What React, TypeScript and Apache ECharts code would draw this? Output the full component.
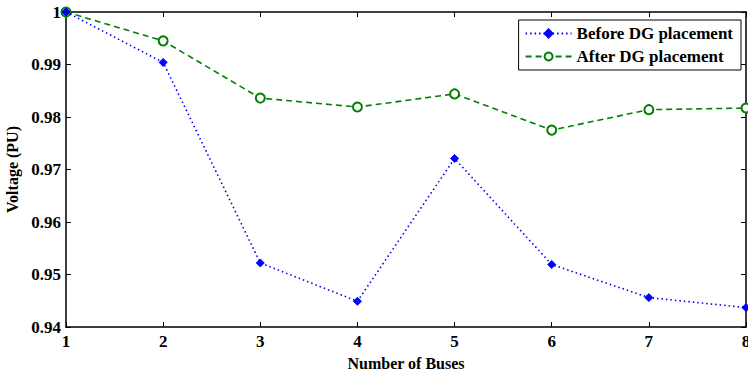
import React, { useEffect, useRef } from "react";
import * as echarts from "echarts";

const buses = [1, 2, 3, 4, 5, 6, 7, 8];
const beforeDG = [1.0, 0.9904, 0.9522, 0.9449, 0.9721, 0.9519, 0.9456, 0.9437];
const afterDG = [1.0, 0.9945, 0.9836, 0.9819, 0.9844, 0.9775, 0.9814, 0.9817];
const seriesNames = ["Before DG placement", "After DG placement"];

const FONT = "'Liberation Serif', 'Times New Roman', serif";

export default function App() {
  const ref = useRef<HTMLDivElement>(null);
  useEffect(() => {
    if (!ref.current) return;
    const chart = echarts.init(ref.current, undefined, { renderer: "svg" });
    const axisLine = { show: true, lineStyle: { color: "#000", width: 1.5 } };
    const tick = { show: true, inside: true, length: 5, lineStyle: { color: "#000", width: 1 } };
    chart.setOption({
      animation: false,
      backgroundColor: "#fff",
      grid: { left: 66, top: 12, right: 2, bottom: 44, containLabel: false, outerBoundsMode: "none" },
      legend: {
        right: 7,
        top: 20,
        orient: "vertical",
        backgroundColor: "#fff",
        borderColor: "#000",
        borderWidth: 1,
        borderRadius: 0,
        padding: [5, 8, 5, 6],
        itemGap: 6,
        itemWidth: 46,
        itemHeight: 10,
        textStyle: { fontFamily: FONT, fontWeight: "bold", fontSize: 17, color: "#000" },
        data: seriesNames,
      },
      xAxis: [
        {
          type: "value",
          min: 1,
          max: 8,
          interval: 1,
          name: "Number of Buses",
          nameLocation: "middle",
          nameGap: 28,
          nameTextStyle: { fontFamily: FONT, fontWeight: "bold", fontSize: 16, color: "#000" },
          axisLine,
          axisTick: tick,
          splitLine: { show: false },
          axisLabel: { fontFamily: FONT, fontWeight: "bold", fontSize: 17, color: "#000", margin: 6 },
        },
        {
          type: "value",
          position: "top",
          min: 1,
          max: 8,
          interval: 1,
          axisLine,
          axisTick: tick,
          splitLine: { show: false },
          axisLabel: { show: false },
        },
      ],
      yAxis: [
        {
          type: "value",
          min: 0.94,
          max: 1.0,
          interval: 0.01,
          name: "Voltage (PU)",
          nameLocation: "middle",
          nameGap: 46,
          nameTextStyle: { fontFamily: FONT, fontWeight: "bold", fontSize: 16, color: "#000" },
          axisLine,
          axisTick: tick,
          splitLine: { show: false },
          axisLabel: {
            fontFamily: FONT,
            fontWeight: "bold",
            fontSize: 17,
            color: "#000",
            margin: 5,
            formatter: (v: number) => String(parseFloat(v.toFixed(2))),
          },
        },
        {
          type: "value",
          position: "right",
          min: 0.94,
          max: 1.0,
          interval: 0.01,
          axisLine,
          axisTick: tick,
          splitLine: { show: false },
          axisLabel: { show: false },
        },
      ],
      series: [
        {
          name: seriesNames[0],
          type: "line",
          data: buses.map((b, i) => [b, beforeDG[i]]),
          symbol: "diamond",
          symbolSize: 8,
          lineStyle: { color: "#0000ff", width: 1.6, type: [1.5, 3] },
          itemStyle: { color: "#0000ff", borderColor: "#0000ff", borderWidth: 1 },
          z: 3,
        },
        {
          name: seriesNames[1],
          type: "line",
          data: buses.map((b, i) => [b, afterDG[i]]),
          symbol: "emptyCircle",
          symbolSize: 9,
          lineStyle: { color: "#008000", width: 1.6, type: [6, 4] },
          itemStyle: { color: "#008000", borderColor: "#008000", borderWidth: 1.6 },
          z: 2,
        },
      ],
    });
    return () => chart.dispose();
  }, []);
  return <div ref={ref} style={{ width: 748, height: 371, position: "absolute", left: 0, top: 0 }} />;
}
